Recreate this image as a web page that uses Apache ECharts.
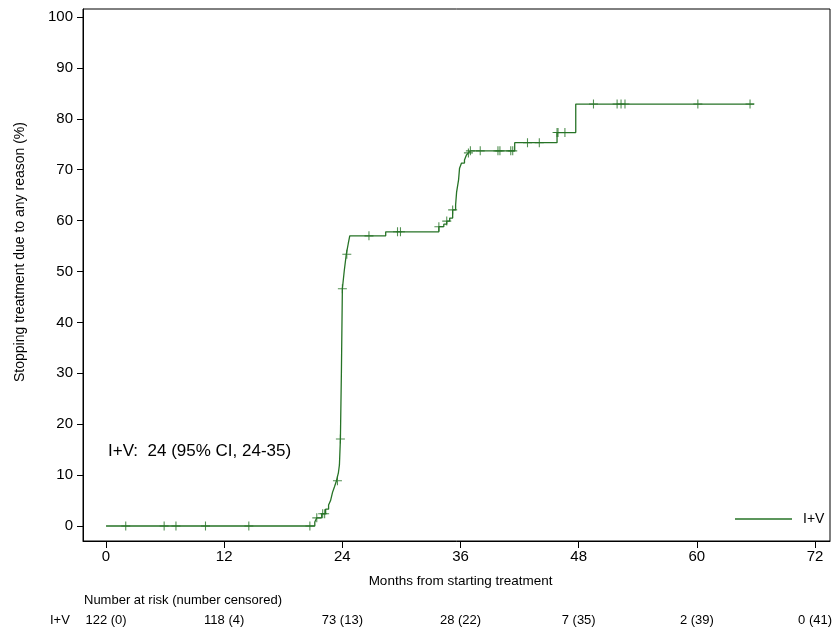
<!DOCTYPE html>
<html>
<head>
<meta charset="utf-8">
<script src="https://cdn.jsdelivr.net/npm/echarts@6/dist/echarts.min.js"></script>
<style>
html,body{margin:0;padding:0;background:#fff;}
#chart{width:834px;height:630px;}
</style>
</head>
<body>
<div id="chart"></div>
<script>
// Kaplan-Meier style cumulative incidence (step points: time in months, % after step)
const stepTimes = [0, 21.2, 21.4, 21.9, 22.3, 22.6, 22.8, 23.0, 23.2, 23.4, 23.6, 23.7, 23.8, 23.9, 24.0, 24.2, 24.4, 24.6, 24.75, 28.4, 33.8, 34.3, 34.6, 34.9, 35.2, 35.5, 35.6, 35.8, 35.9, 36.1, 36.4, 36.6, 36.8, 37.0, 41.5, 45.8, 47.7, 65.8];
const stepPct   = [0, 0.8, 1.6, 2.4, 3.3, 4.1, 5.0, 6.6, 7.7, 8.9, 10.5, 12.0, 17.1, 30.0, 46.6, 50.3, 53.4, 55.5, 57.0, 57.8, 58.8, 59.3, 59.9, 60.5, 62.1, 63.1, 65.6, 68.0, 70.3, 71.3, 71.9, 72.9, 73.3, 73.7, 75.3, 77.3, 82.9, 82.9];
// censoring times (months)
const censorTimes = [2.0, 5.9, 7.1, 10.1, 14.5, 20.7, 21.4, 22.0, 22.2, 23.5, 23.8, 24.0, 24.45, 26.7, 29.6, 29.9, 33.8, 34.6, 35.2, 36.8, 37.0, 38.0, 39.8, 40.0, 41.1, 41.3, 42.8, 44.0, 45.8, 45.9, 46.6, 49.5, 51.9, 52.3, 52.7, 60.1, 65.4];
// axis ticks
const xTicks = [0, 12, 24, 36, 48, 60, 72];
const yTicks = [0, 10, 20, 30, 40, 50, 60, 70, 80, 90, 100];
// number at risk table
const riskTimes = [0, 12, 24, 36, 48, 60, 72];
const riskLabels = ['122 (0)', '118 (4)', '73 (13)', '28 (22)', '7 (35)', '2 (39)', '0 (41)'];
const seriesName = 'I+V';
const annotation = 'I+V:  24 (95% CI, 24-35)';

const GREEN = '#267326';
const FONT = 'Liberation Sans, Arial, sans-serif';

function valueAt(t) {
  let v = stepPct[0];
  for (let i = 0; i < stepTimes.length; i++) {
    if (stepTimes[i] <= t) v = stepPct[i];
  }
  return v;
}

const lineData = stepTimes.map((t, i) => [t, stepPct[i]]);
const censorData = censorTimes.map(t => [t, valueAt(t)]);

const chart = echarts.init(document.getElementById('chart'), null, {renderer: 'canvas'});
const option = {
  animation: false,
  backgroundColor: '#fff',
  textStyle: {fontFamily: FONT},
  grid: {left: 83, right: 4, top: 9, bottom: 89, show: true, borderColor: '#000', borderWidth: 1, containLabel: false},
  xAxis: {
    type: 'value', min: -2.34, max: 73.52,
    axisLine: {show: true, onZero: false, lineStyle: {color: '#000', width: 1}},
    axisTick: {show: true, length: 7, customValues: xTicks, lineStyle: {color: '#000'}},
    axisLabel: {customValues: xTicks, fontSize: 15, color: '#000', margin: 8, fontFamily: FONT},
    splitLine: {show: false}
  },
  yAxis: {
    type: 'value', min: -2.95, max: 101.57,
    axisLine: {show: true, onZero: false, lineStyle: {color: '#000', width: 1}},
    axisTick: {show: true, length: 6, customValues: yTicks, lineStyle: {color: '#000'}},
    axisLabel: {customValues: yTicks, fontSize: 15, color: '#000', margin: 10, fontFamily: FONT},
    splitLine: {show: false}
  },
  legend: {
    data: [seriesName], left: 735, top: 512, padding: 0, icon: 'rect', itemWidth: 57, itemHeight: 1.4,
    textStyle: {fontSize: 14, color: '#000', fontFamily: FONT, padding: [0, 0, 0, 6]},
    selectedMode: false
  },
  series: [
    {
      name: seriesName, type: 'line', step: 'end', data: lineData, showSymbol: false, symbol: 'none',
      lineStyle: {color: GREEN, width: 1.3}, itemStyle: {color: GREEN}, silent: true
    },
    {
      name: 'censored', type: 'scatter', data: censorData,
      symbol: 'path://M-0.6,-5H0.6V-0.6H5V0.6H0.6V5H-0.6V0.6H-5V-0.6H-0.6Z',
      symbolSize: 9, itemStyle: {color: GREEN}, silent: true
    }
  ]
};
chart.setOption(option);

const graphics = [];
graphics.push({
  type: 'text', x: 20, y: 252, rotation: Math.PI / 2,
  style: {text: 'Stopping treatment due to any reason (%)', fontSize: 14, fontFamily: FONT, fill: '#000', textAlign: 'center', textVerticalAlign: 'middle'}
});
graphics.push({
  type: 'text', x: chart.convertToPixel({xAxisIndex: 0}, 36), y: 581,
  style: {text: 'Months from starting treatment', fontSize: 13.5, fontFamily: FONT, fill: '#000', textAlign: 'center', textVerticalAlign: 'middle'}
});
graphics.push({
  type: 'text', x: 84, y: 600,
  style: {text: 'Number at risk (number censored)', fontSize: 13, fontFamily: FONT, fill: '#000', textAlign: 'left', textVerticalAlign: 'middle'}
});
graphics.push({
  type: 'text', x: 50, y: 620,
  style: {text: seriesName, fontSize: 13, fontFamily: FONT, fill: '#000', textAlign: 'left', textVerticalAlign: 'middle'}
});
riskTimes.forEach((t, i) => {
  graphics.push({
    type: 'text', x: chart.convertToPixel({xAxisIndex: 0}, t), y: 620,
    style: {text: riskLabels[i], fontSize: 13, fontFamily: FONT, fill: '#000', textAlign: 'center', textVerticalAlign: 'middle'}
  });
});
graphics.push({
  type: 'text', x: 108, y: 451,
  style: {text: annotation, fontSize: 17, fontFamily: FONT, fill: '#000', textAlign: 'left', textVerticalAlign: 'middle'}
});
chart.setOption({graphic: graphics});
</script>
</body>
</html>
